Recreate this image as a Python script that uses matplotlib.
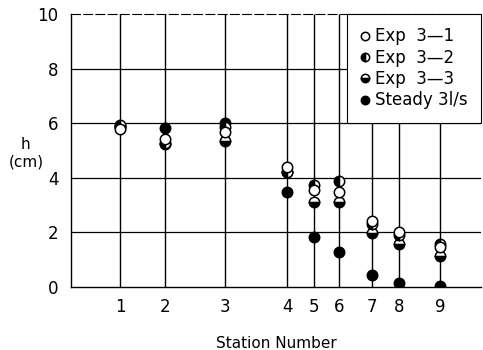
import matplotlib
matplotlib.use("Agg")
import matplotlib.pyplot as plt

plt.rcParams['font.family'] = ['DejaVu Sans']

# station numbers and their position along the channel (not evenly spaced)
stations = ["1", "2", "3", "4", "5", "6", "7", "8", "9"]
station_x = [49, 94, 154, 216, 243, 268, 301, 328, 369]

# water depth h (cm)
exp3_1 = [5.80, 5.42, 5.68, 4.40, 3.55, 3.47, 2.42, 2.03, 1.45]
exp3_2 = [5.95, 5.27, 5.85, 4.22, 3.72, 3.90, 2.30, 1.90, 1.58]
exp3_3 = [5.85, 5.25, 5.35, 4.20, 3.12, 3.12, 1.96, 1.58, 1.12]
steady = [5.90, 5.84, 6.00, 3.48, 1.84, 1.27, 0.44, 0.15, 0.04]

fig = plt.figure(figsize=(4.83, 3.5), dpi=100)
ax = fig.add_axes([0.147, 0.18, 0.849, 0.78])

# grid: vertical lines at stations, horizontal every 2 cm
ax.vlines(station_x, 0, 10, color="black", lw=1.0, zorder=1)
for yv in [2, 4, 6, 8]:
    ax.axhline(yv, color="black", lw=0.9, zorder=1)

ms = 7.5
mk = dict(marker="o", ls="none", ms=ms, mec="black", mew=1.1, zorder=3)
ax.plot(station_x, steady, mfc="black", label="Steady 3l/s", **mk)
ax.plot(station_x, exp3_3, mfc="black", fillstyle="bottom",
        markerfacecoloralt="white", label="Exp  3—3", **mk)
ax.plot(station_x, exp3_2, mfc="black", fillstyle="left",
        markerfacecoloralt="white", label="Exp  3—2", **mk)
ax.plot(station_x, exp3_1, mfc="white", label="Exp  3—1", **mk)

ax.set_xlim(0, 410)
ax.set_ylim(0, 10)
ax.set_xticks(station_x)
ax.set_xticklabels(stations)
ax.set_yticks([0, 2, 4, 6, 8, 10])
ax.tick_params(length=0, labelsize=12, pad=8)
ax.tick_params(axis="y", pad=9)

ax.spines["right"].set_visible(False)
ax.spines["top"].set_linestyle((0, (8, 3)))
ax.spines["top"].set_linewidth(0.8)
ax.spines["left"].set_linewidth(1.0)
ax.spines["bottom"].set_linewidth(1.0)

ax.set_xlabel("Station Number", fontsize=11, labelpad=14)
ax.set_ylabel("h\n(cm)", fontsize=11, rotation=0, va="center", ha="center")
ax.yaxis.set_label_coords(-0.11, 0.49)

handles, labels = ax.get_legend_handles_labels()
leg = ax.legend(handles[::-1], labels[::-1], loc="upper right",
                bbox_to_anchor=(1.0, 1.0), borderaxespad=0.0, fontsize=12,
                frameon=True, fancybox=False, framealpha=1.0,
                edgecolor="black", handlelength=0.6, handletextpad=0.3,
                labelspacing=0.2, borderpad=0.8, markerscale=0.8)
leg.get_frame().set_linewidth(0.8)
leg.set_zorder(5)

fig.savefig("out.png", dpi=100)
